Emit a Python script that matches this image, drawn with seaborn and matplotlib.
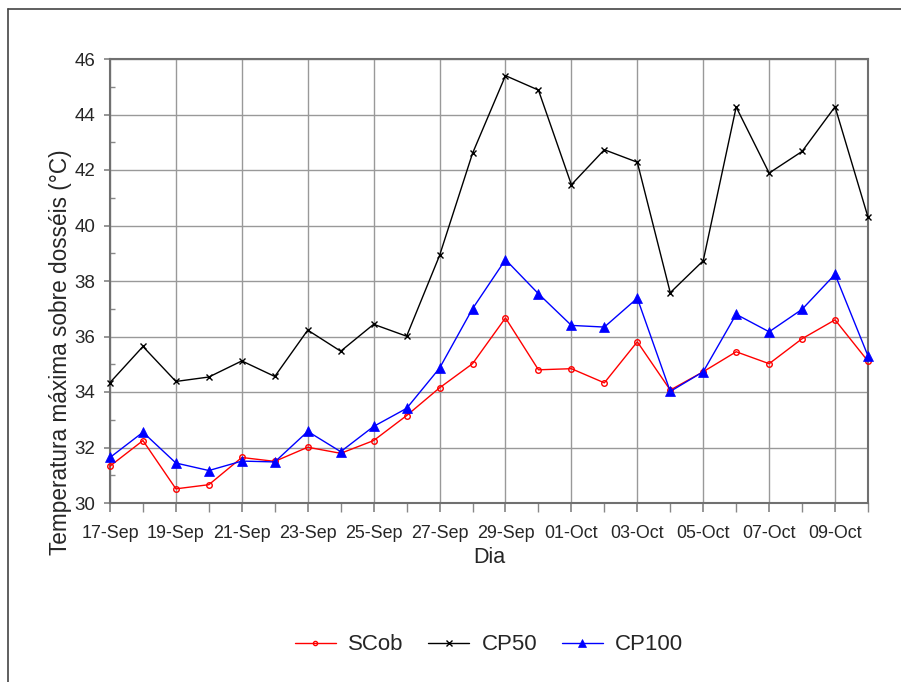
import matplotlib
matplotlib.use("Agg")
import matplotlib.pyplot as plt
import pandas as pd
import seaborn as sns
from matplotlib.lines import Line2D
from matplotlib.ticker import MultipleLocator

dias = ["17-Sep", "18-Sep", "19-Sep", "20-Sep", "21-Sep", "22-Sep", "23-Sep", "24-Sep",
        "25-Sep", "26-Sep", "27-Sep", "28-Sep", "29-Sep", "30-Sep", "01-Oct", "02-Oct",
        "03-Oct", "04-Oct", "05-Oct", "06-Oct", "07-Oct", "08-Oct", "09-Oct", "10-Oct"]
scob = [31.33, 32.25, 30.51, 30.66, 31.64, 31.50, 32.01, 31.79, 32.25, 33.15, 34.15, 35.02,
        36.67, 34.80, 34.84, 34.33, 35.81, 34.07, 34.73, 35.45, 35.02, 35.92, 36.60, 35.11]
cp50 = [34.34, 35.64, 34.38, 34.54, 35.12, 34.56, 36.23, 35.47, 36.44, 36.01, 38.92, 42.60,
        45.40, 44.88, 41.47, 42.73, 42.28, 37.58, 38.73, 44.27, 41.89, 42.67, 44.28, 40.30]
cp100 = [31.64, 32.55, 31.44, 31.17, 31.51, 31.48, 32.58, 31.85, 32.76, 33.41, 34.86, 37.00,
         38.77, 37.54, 36.40, 36.34, 37.38, 34.02, 34.73, 36.80, 36.17, 36.98, 38.24, 35.30]

df = pd.DataFrame({"Dia": dias, "SCob": scob, "CP50": cp50, "CP100": cp100})
long = df.melt(id_vars="Dia", var_name="serie", value_name="temp")

sns.set_theme(style="white")
plt.rcParams["font.family"] = ["Liberation Sans", "DejaVu Sans"]

estilos = {
    "SCob": dict(color="red", marker="o", mfc="none", mec="red", ms=4, mew=1),
    "CP50": dict(color="black", marker="x", mec="black", ms=5, mew=1),
    "CP100": dict(color="blue", marker="^", mec="blue", mfc="blue", ms=6.5, mew=0.5),
}

fig = plt.figure(figsize=(9.01, 6.82), dpi=100)
ax = fig.add_axes([110 / 901, 1 - 503 / 682, 758 / 901, 444 / 682])

handles = []
for nome, kw in estilos.items():
    sub = long[long["serie"] == nome]
    sns.lineplot(data=sub, x="Dia", y="temp", ax=ax, lw=1, sort=False, legend=False,
                 clip_on=False, zorder=3, **kw)
    leg_kw = dict(kw, ms=kw["ms"] - 1)
    handles.append(Line2D([], [], lw=1, label=nome, **leg_kw))

ax.set_xlim(0, len(dias) - 1)
ax.set_ylim(30, 46)
ax.set_xticks(range(0, len(dias), 2))
ax.set_xticklabels(dias[::2], fontsize=12.9)
ax.xaxis.set_minor_locator(MultipleLocator(1))
ax.yaxis.set_major_locator(MultipleLocator(2))
ax.yaxis.set_minor_locator(MultipleLocator(1))
ax.tick_params(axis="y", which="major", direction="out", length=4.5, color="#888888",
               labelsize=13.5, pad=6, left=True)
ax.tick_params(axis="y", which="minor", direction="in", length=3.5, color="#888888", left=True)
ax.tick_params(axis="x", which="both", direction="out", length=6.5, color="#888888",
               pad=9, bottom=True)
ax.grid(True, which="major", color="#999999", lw=1)
for s in ax.spines.values():
    s.set_color("#707070")
    s.set_linewidth(1.5)

ax.set_xlabel("Dia", fontsize=15.5)
ax.xaxis.set_label_coords(0.5, -0.1)
ax.set_ylabel("Temperatura máxima sobre dosséis (°C)", fontsize=16.3)
ax.yaxis.set_label_coords(-0.05, 0.339)

fig.legend(handles=handles, loc="center", bbox_to_anchor=(489 / 901, 1 - 645 / 682), ncol=3,
           frameon=False, handlelength=1.85, columnspacing=1.1, handletextpad=0.55,
           prop={"size": 16})

fig.add_artist(Line2D([8 / 901, 8 / 901], [0, 1 - 9 / 682], transform=fig.transFigure,
                      color="#444444", lw=1.2))
fig.add_artist(Line2D([8 / 901, 1], [1 - 9 / 682, 1 - 9 / 682], transform=fig.transFigure,
                      color="#444444", lw=1.2))

fig.savefig("out.png", dpi=100)
